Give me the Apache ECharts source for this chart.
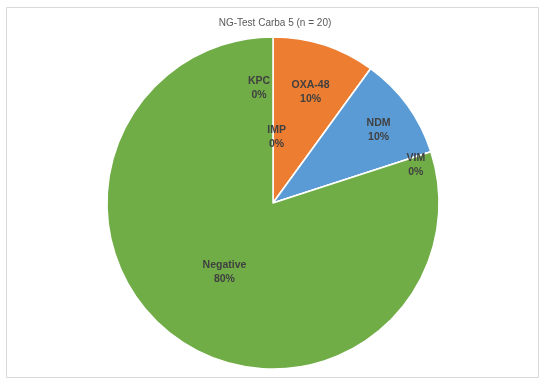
<!DOCTYPE html>
<html>
<head>
<meta charset="utf-8">
<script src="https://cdn.jsdelivr.net/npm/echarts@6/dist/echarts.min.js"></script>
<style>
html,body{margin:0;padding:0;background:#fff;}
#c{width:550px;height:384px;}
</style>
</head>
<body>
<div id="c"></div>
<script>
var titleText = 'NG-Test Carba 5 (n = 20)';
var categories = ['KPC', 'OXA-48', 'IMP', 'NDM', 'VIM', 'Negative'];
var values = [0, 2, 0, 2, 0, 16];
var percents = [0, 10, 0, 10, 0, 80];

var colors = ['#4472C4', '#ED7D31', '#A5A5A5', '#5B9BD5', '#FFC000', '#70AD47'];
// label nudges from the library's 'inside' position (styling)
var labelNudge = [[-14, -29], [11, -29], [-47, 4], [36, -22], [61, -11], [2, 0]];

var chart = echarts.init(document.getElementById('c'));
chart.setOption({
  animation: false,
  backgroundColor: '#fff',
  title: {
    text: titleText,
    left: 'center',
    top: 13,
    textStyle: {fontFamily: 'Liberation Sans', fontSize: 10, fontWeight: 'normal', color: '#595959'}
  },
  graphic: [{
    type: 'rect',
    shape: {x: 6.5, y: 7.5, width: 532, height: 370},
    style: {fill: 'none', stroke: '#d9d9d9', lineWidth: 1},
    silent: true,
    z: -1
  }],
  series: [{
    type: 'pie',
    center: [273, 203],
    radius: [0, 166],
    startAngle: 90,
    clockwise: true,
    avoidLabelOverlap: false,
    label: {
      show: true,
      position: 'inside',
      formatter: function (p) { return p.name + '\n' + percents[p.dataIndex] + '%'; },
      fontFamily: 'Liberation Sans',
      fontSize: 10.5,
      fontWeight: 'bold',
      color: '#404040',
      lineHeight: 14
    },
    labelLine: {show: false},
    labelLayout: function (p) {
      var n = labelNudge[p.dataIndex];
      return {dx: n[0], dy: n[1]};
    },
    itemStyle: {borderColor: '#fff', borderWidth: 1.5},
    emphasis: {disabled: true},
    data: categories.map(function (c, i) {
      return {name: c, value: values[i], itemStyle: {color: colors[i]}};
    })
  }]
});
</script>
</body>
</html>
